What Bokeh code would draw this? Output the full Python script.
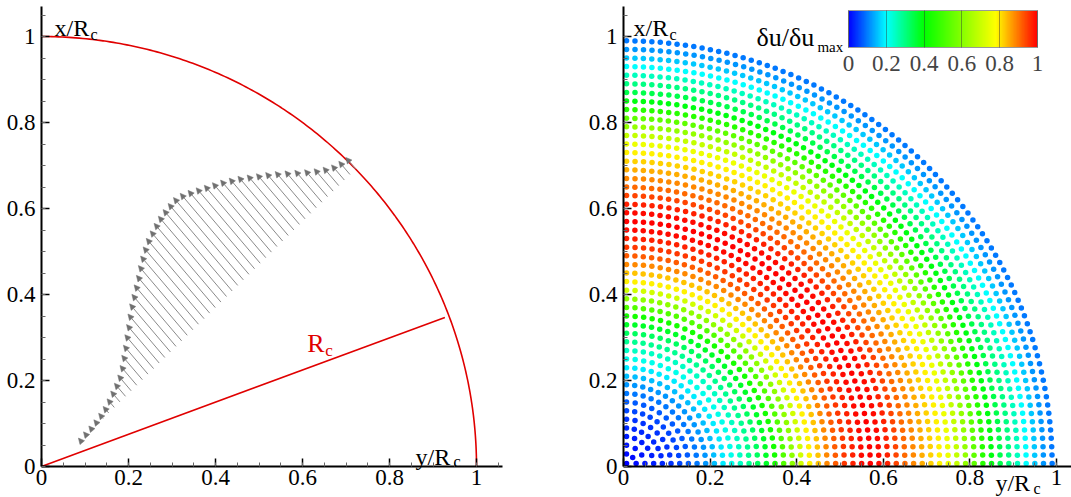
import numpy as np
from bokeh.plotting import figure
from bokeh.models import (ColumnDataSource, Label, Arrow, NormalHead, SingleIntervalTicker,
                          CustomJSTickFormatter, LinearColorMapper, ColorBar, FixedTicker)
from bokeh.layouts import row
from bokeh.embed import file_html
from bokeh.resources import INLINE

FONT = "Liberation Serif"
RED = "#e00000"

# ---------------- data ----------------
# left panel: vectors sampled along a cut (tail x positions) and their magnitudes
arrow_tail_x = np.linspace(0.09, 0.722, 50)
arrow_len = [0.008, 0.010, 0.011, 0.013, 0.016, 0.020, 0.026, 0.033, 0.040, 0.048,
             0.060, 0.074, 0.088, 0.103, 0.117, 0.132, 0.146, 0.158, 0.170, 0.182,
             0.195, 0.207, 0.218, 0.227, 0.233, 0.239, 0.244, 0.247, 0.249, 0.250,
             0.246, 0.238, 0.229, 0.220, 0.211, 0.202, 0.191, 0.180, 0.167, 0.154,
             0.141, 0.127, 0.112, 0.097, 0.082, 0.068, 0.056, 0.046, 0.040, 0.035]
arrow_angle_deg = 130.0
cut_offset = -0.03          # tails lie on y = x + cut_offset
rc_angle_deg = 20.5
rc_len = 0.99

# right panel: rings of sample points and the normalised value on each ring
ring_r = np.arange(0.01, 1.0, 0.02)
ring_val = [0.00, 0.008, 0.016, 0.024, 0.032, 0.040, 0.056, 0.072, 0.096, 0.12,
            0.152, 0.184, 0.216, 0.248, 0.288, 0.328, 0.368, 0.43, 0.52, 0.61,
            0.71, 0.79, 0.83, 0.88, 0.92, 0.95, 0.97, 0.99, 1.00, 0.99,
            0.97, 0.94, 0.91, 0.88, 0.85, 0.82, 0.79, 0.75, 0.69, 0.62,
            0.54, 0.46, 0.39, 0.34, 0.30, 0.25, 0.20, 0.16, 0.12, 0.096]
point_spacing = 0.0195
edge_gap = 0.007

cbar_ticks = [0, 0.2, 0.4, 0.6, 0.8, 1]

# colour map (blue - cyan - green - yellow - red)
stops = [0.0, 0.2, 0.4, 0.78, 1.0]
stop_cols = np.array([[0, 0, 255], [0, 255, 255], [0, 255, 0], [255, 255, 0], [255, 0, 0]])
tt = np.linspace(0, 1, 256)
palette = []
for t in tt:
    c = [np.interp(t, stops, stop_cols[:, k]) for k in range(3)]
    palette.append("#%02x%02x%02x" % tuple(int(round(v)) for v in c))
mapper = LinearColorMapper(palette=palette, low=0, high=1)

fmt_code = "return Number(tick.toFixed(2)).toString();"
TICK_FONT_SIZE = "23px"


def style(p, xmax):
    p.xaxis.ticker = SingleIntervalTicker(interval=0.2, num_minor_ticks=4)
    p.yaxis.ticker = SingleIntervalTicker(interval=0.2, num_minor_ticks=4)
    # axes sit on the data origin, inside the frame, so side texts can share the frame
    p.xaxis.fixed_location = 0
    p.yaxis.fixed_location = 0
    p.xaxis.bounds = (0, xmax)
    p.yaxis.bounds = (0, 1.07)
    for ax in p.axis:
        ax.formatter = CustomJSTickFormatter(code=fmt_code)
        ax.major_label_text_font = FONT
        ax.major_label_text_font_size = TICK_FONT_SIZE
        ax.major_label_text_color = "black"
        ax.axis_line_width = 2
        ax.axis_line_color = "black"
        ax.major_tick_in = 8
        ax.major_tick_out = 0
        ax.minor_tick_in = 4
        ax.minor_tick_out = 0
        ax.major_tick_line_width = 1.5
        ax.major_tick_line_color = "black"
        ax.minor_tick_line_color = "#666666"
        ax.minor_tick_line_width = 1
    p.xaxis.major_label_standoff = 3
    p.yaxis.major_label_standoff = 6
    p.grid.visible = False
    p.outline_line_color = None
    p.background_fill_color = "white"
    p.border_fill_color = "white"


def sub_label(p, x, y, main, sub, size, sub_size, dx, dy, color="black"):
    p.add_layout(Label(x=x, y=y, text=main, text_font=FONT, text_font_size=size,
                       text_color=color, text_baseline="alphabetic", level="overlay"))
    p.add_layout(Label(x=x, y=y, x_offset=dx, y_offset=dy, text=sub, text_font=FONT,
                       text_font_size=sub_size, text_color=color, text_baseline="alphabetic",
                       level="overlay"))


H = 496
Y_RANGE = (-30 / 430, 466 / 430)
# ---------------- left panel ----------------
p1 = figure(width=568, height=H, x_range=(-41 / 435, 527 / 435), y_range=Y_RANGE,
            output_backend="svg", toolbar_location=None,
            min_border_left=0, min_border_right=0, min_border_top=0, min_border_bottom=0)
style(p1, 1.06)

th = np.linspace(0, np.pi / 2, 200)
p1.line(np.cos(th), np.sin(th), line_color=RED, line_width=1.6)
a = np.deg2rad(rc_angle_deg)
p1.line([0, rc_len * np.cos(a)], [0, rc_len * np.sin(a)], line_color=RED, line_width=1.6)

ang = np.deg2rad(arrow_angle_deg)
L = np.array(arrow_len)
x0 = arrow_tail_x
y0 = arrow_tail_x + cut_offset
src = ColumnDataSource(dict(x0=x0, y0=y0, x1=x0 + L * np.cos(ang), y1=y0 + L * np.sin(ang)))
p1.add_layout(Arrow(source=src, x_start="x0", y_start="y0", x_end="x1", y_end="y1",
                    line_color="#8a8a8a", line_width=1,
                    end=NormalHead(size=6, fill_color="#707070", line_color="#707070",
                                   line_width=0.5)))

sub_label(p1, 0.03, 1.019, "x/R", "c", "24px", "16px", 36, -6)
sub_label(p1, 0.86, 0.021, "y/R", "c", "24px", "16px", 38, -4)
sub_label(p1, 0.611, 0.286, "R", "c", "26px", "17px", 18, -7, color=RED)

# ---------------- right panel ----------------
p2 = figure(width=503, height=H, x_range=(-55 / 433, 448 / 433), y_range=Y_RANGE,
            output_backend="svg", toolbar_location=None,
            min_border_left=0, min_border_right=0, min_border_top=0, min_border_bottom=0)
style(p2, 1.035)

px, py, pv = [], [], []
for r, v in zip(ring_r, ring_val):
    t0 = min(edge_gap / r, np.pi / 4)
    n = max(1, int(round((np.pi / 2 * r - 2 * edge_gap) / point_spacing)) + 1)
    thetas = np.array([np.pi / 4]) if n == 1 else np.linspace(t0, np.pi / 2 - t0, n)
    px.extend(r * np.cos(thetas))
    py.extend(r * np.sin(thetas))
    pv.extend([v] * len(thetas))
psrc = ColumnDataSource(dict(x=px, y=py, v=pv))
p2.scatter("x", "y", source=psrc, size=5.5, line_color=None,
           fill_color={"field": "v", "transform": mapper})

cb = ColorBar(color_mapper=mapper, orientation="horizontal", width=189, height=37,
              location=(280, 423), padding=0, margin=0,
              ticker=FixedTicker(ticks=cbar_ticks),
              formatter=CustomJSTickFormatter(code=fmt_code),
              major_label_text_font=FONT, major_label_text_font_size=TICK_FONT_SIZE,
              label_standoff=8, major_tick_in=37, major_tick_out=0,
              major_tick_line_color="#333333", major_tick_line_alpha=0.45,
              minor_tick_line_color=None,
              bar_line_color="#999999", border_line_color=None,
              background_fill_alpha=0)
p2.add_layout(cb, "center")

sub_label(p2, 0.023, 1.019, "x/R", "c", "24px", "16px", 36, -6)
sub_label(p2, 0.859, -0.0395, "y/R", "c", "24px", "16px", 38, -5)
sub_label(p2, 0.307, 0.998, "δu/δu", "max", "26px", "15px", 61, -10)

layout = row(p1, p2)
open("out.html", "w").write(file_html(layout, INLINE))
